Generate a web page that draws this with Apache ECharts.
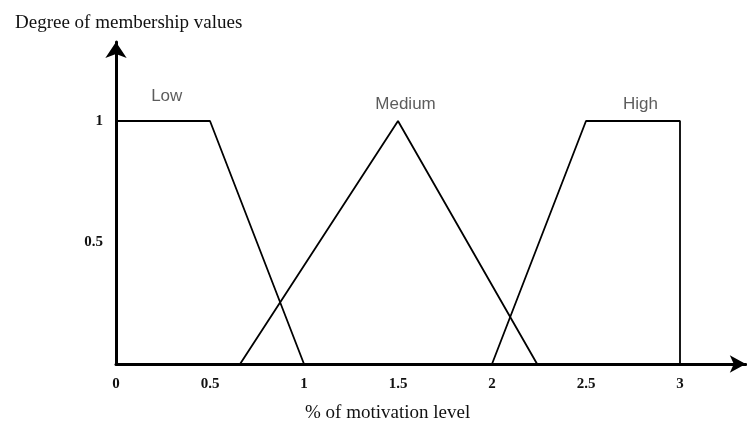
<!DOCTYPE html>
<html>
<head>
<meta charset="utf-8">
<script src="https://cdn.jsdelivr.net/npm/echarts@6/dist/echarts.min.js"></script>
<style>
html, body { margin: 0; padding: 0; background: #fff; }
#chart { width: 747px; height: 423px; }
</style>
</head>
<body>
<div id="chart"></div>
<script>
// membership functions
var lowData = [[0, 1], [0.5, 1], [1, 0]];
var mediumData = [[0.66, 0], [1.5, 1], [2.24, 0]];
var highData = [[2, 0], [2.5, 1], [3, 1], [3, 0]];
var xTicks = [0, 0.5, 1, 1.5, 2, 2.5, 3];
var yTicks = [0.5, 1];
var setNames = ['Low', 'Medium', 'High'];
var namePos = [[0.27, 1.1], [1.54, 1.07], [2.79, 1.07]];

var serif = '"Liberation Serif", "DejaVu Serif", serif';

var myChart = echarts.init(document.getElementById('chart'));

var lineSeries = function (name, data) {
    return {
        name: name,
        type: 'line',
        data: data,
        symbol: 'none',
        lineStyle: { color: '#000', width: 1.8 },
        z: 1
    };
};

myChart.setOption({
    animation: false,
    title: [
        {
            text: 'Degree of membership values',
            left: 10, top: 9,
            textStyle: { fontFamily: serif, fontSize: 19, fontWeight: 'normal', color: '#111' }
        },
        {
            text: '% of motivation level',
            left: 300, top: 399,
            textStyle: { fontFamily: serif, fontSize: 19, fontWeight: 'normal', color: '#111' }
        }
    ],
    grid: { left: 116, top: 42, width: 629.8, height: 322 },
    xAxis: {
        type: 'value',
        min: 0,
        max: 3.35,
        splitLine: { show: false },
        axisTick: { show: false },
        axisLine: {
            onZero: false,
            symbol: ['none', 'arrow'],
            symbolSize: [13, 16],
            lineStyle: { color: '#000', width: 3 }
        },
        axisLabel: {
            customValues: xTicks,
            margin: 13,
            fontFamily: serif,
            fontSize: 15,
            fontWeight: 'bold',
            color: '#111'
        }
    },
    yAxis: {
        type: 'value',
        min: 0,
        max: 1.325,
        splitLine: { show: false },
        axisTick: { show: false },
        axisLine: {
            onZero: false,
            symbol: ['none', 'arrow'],
            symbolSize: [16, 16],
            lineStyle: { color: '#000', width: 3 }
        },
        axisLabel: {
            customValues: yTicks,
            margin: 13,
            fontFamily: serif,
            fontSize: 15,
            fontWeight: 'bold',
            color: '#111'
        }
    },
    series: [
        lineSeries('Low', lowData),
        lineSeries('Medium', mediumData),
        lineSeries('High', highData),
        {
            type: 'scatter',
            symbolSize: 0,
            data: namePos.map(function (p, i) { return { value: p, name: setNames[i] }; }),
            label: {
                show: true,
                position: 'inside',
                formatter: '{b}',
                fontFamily: '"Liberation Sans", "Open Sans", sans-serif',
                fontSize: 17,
                color: '#333'
            },
            silent: true
        }
    ]
});
</script>
</body>
</html>
